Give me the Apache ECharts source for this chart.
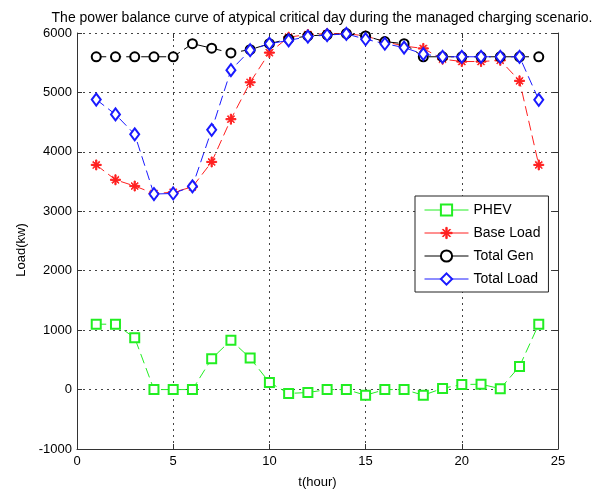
<!DOCTYPE html>
<html>
<head>
<meta charset="utf-8">
<script src="https://cdn.jsdelivr.net/npm/echarts@6/dist/echarts.min.js"></script>
<style>html,body{margin:0;padding:0;background:#fff;}#c{width:606px;height:495px;}</style>
</head>
<body>
<div id="c"></div>
<script>
var hours = [1,2,3,4,5,6,7,8,9,10,11,12,13,14,15,16,17,18,19,20,21,22,23,24];
var phev = [1100,1100,870,0,0,0,520,830,530,120,-65,-50,0,0,-95,0,0,-95,20,85,90,15,390,1100];
var baseLoad = [3780,3530,3425,3300,3320,3410,3830,4550,5170,5670,5930,5975,5990,5990,5950,5855,5780,5740,5560,5520,5520,5540,5195,3780];
var totalGen = [5600,5600,5600,5600,5600,5820,5745,5665,5720,5820,5900,5950,5970,5990,5950,5855,5820,5600,5600,5600,5600,5600,5600,5600];
var totalLoad = [4880,4630,4295,3290,3300,3420,4370,5375,5710,5820,5875,5940,5965,5985,5895,5820,5755,5645,5600,5600,5600,5600,5600,4875];
var yTicks = [-1000,0,1000,2000,3000,4000,5000,6000];
var xTicks = [0,5,10,15,20,25];

function pairs(v){ return hours.map(function(h,i){ return [h, v[i]]; }); }
var FONT = 'Liberation Sans';
var starPath = 'path://M-0.6,-5 L0.6,-5 L0.6,5 L-0.6,5 Z M-5,-0.6 L5,-0.6 L5,0.6 L-5,0.6 Z M-3.6,-3.0 L-3.0,-3.6 L3.6,3.0 L3.0,3.6 Z M-3.0,3.6 L-3.6,3.0 L3.0,-3.6 L3.6,-3.0 Z';

function mk(name, data, color, symbol, size){
  return {
    name: name, type: 'line', data: pairs(data),
    symbol: symbol, symbolSize: size,
    lineStyle: {color: color, width: 1, type: [10,5]},
    itemStyle: {color: color, borderColor: color, borderWidth: 1},
    emphasis: {disabled: true}, animation: false, z: 3
  };
}

var chart = echarts.init(document.getElementById('c'), null, {renderer: 'canvas'});
chart.setOption({
  animation: false,
  backgroundColor: '#fff',
  title: {
    text: 'The power balance curve of atypical critical day during the managed charging scenario.',
    left: 317, top: 6, textAlign: 'center',
    textStyle: {fontFamily: FONT, fontSize: 14, fontWeight: 'normal', color: '#000'}
  },
  grid: {left: 77, right: 48, top: 33, bottom: 46},
  legend: {
    orient: 'vertical', left: 415, top: 196,
    padding: [7, 8, 6, 9], itemWidth: 44, itemHeight: 14, itemGap: 9,
    backgroundColor: '#fff', borderColor: '#222', borderWidth: 1, borderRadius: 0,
    lineStyle: {type: 'solid', width: 1},
    itemStyle: {borderWidth: 1},
    textStyle: {fontFamily: FONT, fontSize: 14, color: '#000', padding: [0,0,0,0]},
    data: ['PHEV','Base Load','Total Gen','Total Load']
  },
  xAxis: [
    {
      type: 'value', min: xTicks[0], max: xTicks[xTicks.length-1], interval: 5,
      name: 't(hour)', nameLocation: 'middle', nameGap: 27,
      nameTextStyle: {fontFamily: FONT, fontSize: 13, color: '#000'},
      axisLine: {show: true, onZero: false, lineStyle: {color: '#333', width: 1}},
      axisTick: {show: true, inside: true, length: 5, lineStyle: {color: '#333'}},
      axisLabel: {color: '#000', fontFamily: FONT, fontSize: 13, margin: 6},
      splitLine: {show: true, lineStyle: {color: '#444', type: [2,4], width: 1}}
    },
    {type: 'value', position: 'top', min: 0, max: 25, interval: 5,
     axisLine: {show: false, onZero: false}, axisTick: {show: true, inside: true, length: 5, lineStyle: {color: '#333'}},
     axisLabel: {show: false}, splitLine: {show: false}}
  ],
  yAxis: [
    {
      type: 'value', min: yTicks[0], max: yTicks[yTicks.length-1], interval: 1000,
      name: 'Load(kw)', nameLocation: 'middle', nameGap: 40, nameRotate: 90,
      nameTextStyle: {fontFamily: FONT, fontSize: 13, color: '#000', padding: [0,0,0,-18]},
      axisLine: {show: true, onZero: false, lineStyle: {color: '#333', width: 1}},
      axisTick: {show: true, inside: true, length: 5, lineStyle: {color: '#333'}},
      axisLabel: {color: '#000', fontFamily: FONT, fontSize: 13, margin: 5, formatter: function(v){ return String(v); }},
      splitLine: {show: true, lineStyle: {color: '#444', type: [2,4], width: 1}}
    },
    {type: 'value', position: 'right', min: -1000, max: 6000, interval: 1000,
     axisLine: {show: true, onZero: false, lineStyle: {color: '#333'}}, axisTick: {show: true, inside: true, length: 5, lineStyle: {color: '#333'}},
     axisLabel: {show: false}, splitLine: {show: false}}
  ],
  series: [
    mk('PHEV', phev, '#22ee22', 'emptyRect', 9),
    mk('Base Load', baseLoad, '#ff2020', starPath, 10),
    mk('Total Gen', totalGen, '#000000', 'emptyCircle', 9),
    mk('Total Load', totalLoad, '#1a1aff', 'emptyDiamond', [9,12])
  ]
});
</script>
</body>
</html>
